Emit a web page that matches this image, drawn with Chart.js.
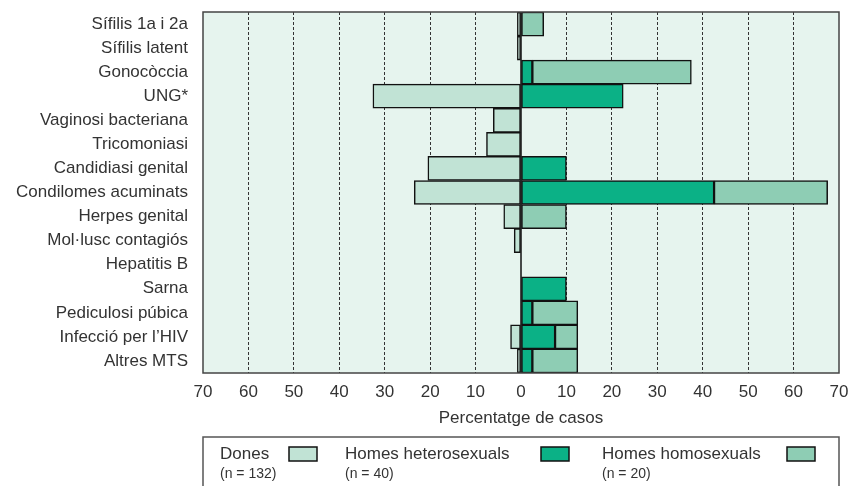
<!DOCTYPE html>
<html>
<head>
<meta charset="utf-8">
<script src="https://cdn.jsdelivr.net/npm/chart.js@4"></script>
<style>
  body { margin: 0; background: #fff; }
  #wrap { width: 854px; height: 486px; }
</style>
</head>
<body>
<div id="wrap"><canvas id="mtsChart" width="854" height="486"></canvas></div>
<script>
// categories (top to bottom)
var categories = ['Sífilis 1a i 2a', 'Sífilis latent', 'Gonocòccia', 'UNG*', 'Vaginosi bacteriana',
    'Tricomoniasi', 'Candidiasi genital', 'Condilomes acuminats', 'Herpes genital',
    'Mol·lusc contagiós', 'Hepatitis B', 'Sarna', 'Pediculosi púbica', "Infecció per l’HIV", 'Altres MTS'];

// percentatge de casos (dones drawn to the left, so negative)
var dones        = [-0.8, -0.8, 0, -32.6, -6.1, -7.6, -20.5, -23.5, -3.8, -1.5, 0, 0, 0, -2.3, -0.8];
var heterosexual = [0, 0, 2.5, 22.5, 0, 0, 10, 42.5, 0, 0, 0, 10, 2.5, 7.5, 2.5];
var homosexual   = [5, 0, 35, 0, 0, 0, 0, 25, 10, 0, 0, 0, 10, 5, 10];

var xTicks = [-70, -60, -50, -40, -30, -20, -10, 0, 10, 20, 30, 40, 50, 60, 70];

var colDones = '#c1e3d5';
var colHetero = '#0bb186';
var colHomo = '#8ecdb4';
var textCol = '#333333';
var fontName = '"Liberation Sans", Arial, sans-serif';

// light green plot background
var plotBg = {
    id: 'plotBg',
    beforeDraw: function(chart){
        var a = chart.chartArea, ctx = chart.ctx;
        ctx.save();
        ctx.fillStyle = '#e6f4ee';
        ctx.fillRect(a.left, a.top, a.right - a.left, a.bottom - a.top);
        ctx.restore();
    }
};

// zero line + frame
var frame = {
    id: 'frame',
    afterDatasetsDraw: function(chart){
        var a = chart.chartArea, ctx = chart.ctx;
        var x0 = chart.scales.x.getPixelForValue(0);
        ctx.save();
        ctx.strokeStyle = '#111';
        ctx.lineWidth = 1.5;
        ctx.beginPath();
        ctx.moveTo(x0, a.top);
        ctx.lineTo(x0, a.bottom);
        ctx.stroke();
        ctx.strokeStyle = '#444';
        ctx.strokeRect(a.left, a.top, a.right - a.left, a.bottom - a.top);
        ctx.restore();
    }
};

// legend box below the axis title
var legendBox = {
    id: 'legendBox',
    afterDraw: function(chart){
        var ctx = chart.ctx;
        var a = chart.chartArea;
        var top = 437;
        ctx.save();
        ctx.strokeStyle = '#555';
        ctx.lineWidth = 1.5;
        ctx.beginPath();
        ctx.moveTo(a.left, 486);
        ctx.lineTo(a.left, top);
        ctx.lineTo(a.right, top);
        ctx.lineTo(a.right, 486);
        ctx.stroke();

        var items = [
            {name: 'Dones', n: '(n = 132)', x: 220, sw: 289, col: colDones},
            {name: 'Homes heterosexuals', n: '(n = 40)', x: 345, sw: 541, col: colHetero},
            {name: 'Homes homosexuals', n: '(n = 20)', x: 602, sw: 787, col: colHomo}
        ];
        items.forEach(function(it){
            ctx.fillStyle = textCol;
            ctx.textBaseline = 'alphabetic';
            ctx.textAlign = 'left';
            ctx.font = '17px ' + fontName;
            ctx.fillText(it.name, it.x, 459);
            ctx.font = '14px ' + fontName;
            ctx.fillText(it.n, it.x, 478);
            ctx.fillStyle = it.col;
            ctx.fillRect(it.sw, 447, 28, 14);
            ctx.strokeStyle = '#111';
            ctx.lineWidth = 1.5;
            ctx.strokeRect(it.sw, 447, 28, 14);
        });
        ctx.restore();
    }
};

function chartRenderer(){
    var ctx = document.getElementById('mtsChart').getContext('2d');
    var barStyle = {borderColor: '#111', borderWidth: 1.5, borderSkipped: false,
        barPercentage: 1, categoryPercentage: 1};

    new Chart(ctx, {
        type: 'bar',
        data: {
            labels: categories,
            datasets: [
                Object.assign({label: 'Dones', data: dones, backgroundColor: colDones}, barStyle),
                Object.assign({label: 'Homes heterosexuals', data: heterosexual, backgroundColor: colHetero}, barStyle),
                Object.assign({label: 'Homes homosexuals', data: homosexual, backgroundColor: colHomo}, barStyle)
            ]
        },
        options: {
            indexAxis: 'y',
            responsive: false,
            animation: false,
            layout: { padding: {top: 12, right: 15, bottom: 53, left: 0} },
            plugins: {
                legend: { display: false },
                tooltip: { enabled: false }
            },
            scales: {
                x: {
                    stacked: true,
                    min: -70,
                    max: 70,
                    afterBuildTicks: function(scale){
                        scale.ticks = xTicks.map(function(v){ return {value: v}; });
                    },
                    afterFit: function(scale){
                        scale.height = 60;
                        scale.paddingLeft = 0;
                        scale.paddingRight = 0;
                    },
                    ticks: {
                        color: textCol,
                        padding: 9,
                        font: {family: fontName, size: 17},
                        callback: function(v){ return Math.abs(v); }
                    },
                    grid: {
                        drawTicks: false,
                        lineWidth: 1,
                        color: function(c){
                            var v = c.tick ? c.tick.value : 0;
                            return (v === 0 || Math.abs(v) === 70) ? 'rgba(0,0,0,0)' : '#333';
                        }
                    },
                    border: { display: false, dash: [3, 2] },
                    title: {
                        display: true,
                        text: 'Percentatge de casos',
                        color: textCol,
                        font: {family: fontName, size: 17},
                        padding: {top: 4, bottom: 4}
                    }
                },
                y: {
                    stacked: true,
                    afterFit: function(scale){
                        scale.width = 203;
                        scale.paddingTop = 0;
                        scale.paddingBottom = 0;
                    },
                    grid: { display: false, drawTicks: false },
                    border: { display: false },
                    ticks: {
                        autoSkip: false,
                        color: textCol,
                        padding: 15,
                        font: {family: fontName, size: 17}
                    }
                }
            }
        },
        plugins: [plotBg, frame, legendBox]
    });
}
chartRenderer();
</script>
</body>
</html>
